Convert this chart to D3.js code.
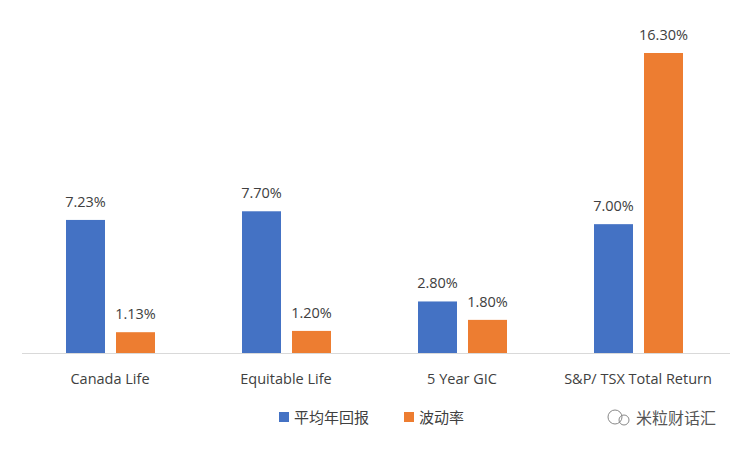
<!DOCTYPE html><html><head><meta charset="utf-8">
<script src="https://cdn.jsdelivr.net/npm/d3@7"></script>
<style>body{margin:0;background:#fff}text{font-family:"Open Sans","Noto Sans CJK SC",sans-serif}</style></head><body>
<svg id="c" width="750" height="450"></svg>
<script>
const categories=["Canada Life","Equitable Life","5 Year GIC","S&P/ TSX Total Return"];
const seriesNames=["平均年回报","波动率"];
const avgReturn=[7.23,7.70,2.80,7.00];
const volatility=[1.13,1.20,1.80,16.30];
const colors=["#4472C4","#ED7D31"];
const svg=d3.select("#c");
const x=d3.scaleBand().domain(categories).range([22,726]);
const y=d3.scaleLinear().domain([0,16.3]).range([353,53]);
const inner=d3.scaleBand().domain([0,1]).range([44,133]).paddingInner(0.22);
svg.append("line").attr("x1",22).attr("x2",730).attr("y1",y(0)+0.5).attr("y2",y(0)+0.5).attr("stroke","#d9d9d9");
[avgReturn,volatility].forEach((s,si)=>{
 const g=svg.append("g");
 g.selectAll("rect").data(s).join("rect").attr("x",(d,i)=>x(categories[i])+inner(si)).attr("width",inner.bandwidth())
  .attr("y",d=>y(d)).attr("height",d=>y(0)-y(d)).attr("fill",colors[si]);
 g.selectAll("text").data(s).join("text").attr("x",(d,i)=>x(categories[i])+inner(si)+inner.bandwidth()/2).attr("y",d=>y(d)-13)
  .attr("text-anchor","middle").attr("font-size",14.5).attr("fill","#404040").text(d=>d.toFixed(2)+"%");
});
svg.append("g").selectAll("text").data(categories).join("text").attr("x",d=>x(d)+x.bandwidth()/2).attr("y",384)
 .attr("text-anchor","middle").attr("font-size",14.5).attr("fill","#404040").text(d=>d);
const lx=[279,404];
seriesNames.forEach((n,i)=>{
 svg.append("rect").attr("x",lx[i]).attr("y",412).attr("width",10).attr("height",10).attr("fill",colors[i]);
 svg.append("text").attr("x",lx[i]+15).attr("y",423).attr("font-size",15).attr("fill","#404040").text(n);
});
svg.append("text").attr("x",636).attr("y",424).attr("font-size",16).attr("fill","#555").text("米粒财话汇");
svg.append("circle").attr("cx",615).attr("cy",417).attr("r",7).attr("fill","none").attr("stroke","#888");
svg.append("circle").attr("cx",624).attr("cy",420).attr("r",5).attr("fill","none").attr("stroke","#888");
</script></body></html>
